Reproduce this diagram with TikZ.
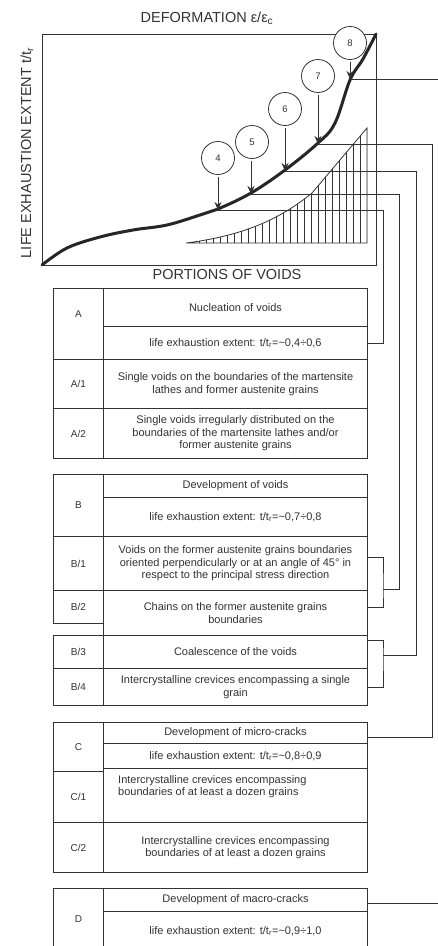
\documentclass[tikz,border=0pt]{standalone}
\usepackage{fontspec}
\setmainfont{Liberation Sans}
\usepackage{tikz}
\usetikzlibrary{arrows.meta}
\definecolor{ink}{HTML}{333333}
\tikzstyle{axislabel} = [text=ink, inner sep=0pt, font=\fontsize{14.5}{16}\selectfont]
\tikzstyle{frame} = [draw=ink, line width=0.9pt]
\tikzstyle{hatch} = [draw=ink, line width=0.8pt]
\tikzstyle{lifeline} = [draw=black!85, line width=3pt, line cap=round]
\tikzstyle{marker} = [circle, draw=ink, fill=white, line width=0.8pt, minimum size=33pt, inner sep=0pt, text=ink, font=\fontsize{9.5}{11}\selectfont]
\tikzstyle{pointer} = [draw=ink, line width=0.9pt, -{Stealth[length=8pt, width=7pt]}, shorten <=2pt]
\tikzstyle{link} = [draw=ink, line width=1pt]
\tikzstyle{tag} = [rectangle, draw=ink, line width=1pt, inner sep=0pt, minimum width=50pt, anchor=north west, text=ink, font=\fontsize{10}{12}\selectfont]
\tikzstyle{entry} = [rectangle, draw=ink, line width=1pt, inner sep=0pt, minimum width=264pt, anchor=north west, align=center, text=ink, font=\fontsize{11}{12.5}\selectfont]

\begin{document}
\begin{tikzpicture}[x=1pt, y=-1pt]
    \useasboundingbox [fill=white] (0,0) rectangle (438,946);

    % chart
    \node (title) [axislabel] at (207,18) {DEFORMATION ε/ε\textsubscript{c}};
    \node (ylab) [axislabel, rotate=90] at (27,153) {LIFE EXHAUSTION EXTENT t/t\textsubscript{r}};
    \node (xlab) [axislabel] at (227,275) {PORTIONS OF VOIDS};
    \draw [frame] (42,34) rectangle (376,265);

    \begin{scope}
        \clip (186,243) .. controls (250,235) and (285,215) .. (312,193) -- (367,128) -- (367,243) -- cycle;
        \foreach \x in {192,199,...,367}
            \draw [hatch] (\x,120) -- (\x,250);
    \end{scope}
    \draw [hatch] (186,243) .. controls (250,235) and (285,215) .. (312,193) -- (367,128) -- (367,243) -- cycle;

    \draw [lifeline] plot [smooth, tension=0.6] coordinates {(42,265) (67,248) (100,237) (133,230) (167,225) (200,215) (218,209) (251,193) (285,170) (318,143) (335,123) (350,80) (363,59) (376,34)};

    \coordinate (p4) at (218,210);
    \coordinate (p5) at (251,194);
    \coordinate (p6) at (285,171);
    \coordinate (p7) at (318,144);
    \coordinate (p8) at (350,79);

    \node (m4) [marker] at (218,158) {4};
    \node (m5) [marker] at (252,142) {5};
    \node (m6) [marker] at (285,109) {6};
    \node (m7) [marker] at (318,76) {7};
    \node (m8) [marker] at (350,43) {8};
    \draw [pointer] (m4) -- (p4);
    \draw [pointer] (m5.south -| p5) -- (p5);
    \draw [pointer] (m6) -- (p6);
    \draw [pointer] (m7) -- (p7);
    \draw [pointer] (m8) -- (p8);

    % table A
    \node (A) [tag, minimum height=71, text depth=20pt] at (53,288) {A};
    \node (nucl) [entry, minimum height=38] at (103,288) {Nucleation of voids};
    \node (lifeA) [entry, minimum height=33] at (103,326) {life exhaustion extent: t/t\textsubscript{r}=\textasciitilde0,4÷0,6};
    \node (A1) [tag, minimum height=49] at (53,359) {A/1};
    \node (A1txt) [entry, minimum height=49] at (103,359) {Single voids on the boundaries of the martensite\\lathes and former austenite grains};
    \node (A2) [tag, minimum height=50] at (53,408) {A/2};
    \node (A2txt) [entry, minimum height=50] at (103,408) {Single voids irregularly distributed on the\\boundaries of the martensite lathes and/or\\former austenite grains};

    % table B
    \node (B) [tag, minimum height=62] at (53,474) {B};
    \node (devV) [entry, minimum height=23] at (103,474) {Development of voids};
    \node (lifeB) [entry, minimum height=39] at (103,497) {life exhaustion extent: t/t\textsubscript{r}=\textasciitilde0,7÷0,8};
    \node (B1) [tag, minimum height=54] at (53,536) {B/1};
    \node (B1txt) [entry, minimum height=54] at (103,536) {Voids on the former austenite grains boundaries\\oriented perpendicularly or at an angle of 45° in\\respect to the principal stress direction};
    \node (B2) [tag, minimum height=33] at (53,590) {B/2};
    \node (B2txt) [entry, minimum height=45] at (103,590) {Chains on the former austenite grains\\boundaries};
    \node (B3) [tag, minimum height=33] at (53,635) {B/3};
    \node (B3txt) [entry, minimum height=33] at (103,635) {Coalescence of the voids};
    \node (B4) [tag, minimum height=37] at (53,668) {B/4};
    \node (B4txt) [entry, minimum height=37] at (103,668) {Intercrystalline crevices encompassing a single\\grain};

    % table C
    \node (C) [tag, minimum height=49] at (53,722) {C};
    \node (micro) [entry, minimum height=21] at (103,722) {Development of micro-cracks};
    \node (lifeC) [entry, minimum height=25] at (103,743) {life exhaustion extent: t/t\textsubscript{r}=\textasciitilde0,8÷0,9};
    \node (C1) [tag, minimum height=51] at (53,771) {C/1};
    \node (C1txt) [entry, minimum height=54] at (103,768) {};
    \node (C1note) [anchor=north west, align=left, inner sep=0pt, text=ink, font=\fontsize{11}{12.5}\selectfont] at (118,775) {Intercrystalline crevices encompassing\\boundaries of at least a dozen grains};
    \node (C2) [tag, minimum height=50] at (53,822) {C/2};
    \node (C2txt) [entry, minimum height=50] at (103,822) {Intercrystalline crevices encompassing\\boundaries of at least a dozen grains};

    % table D
    \node (D) [tag, minimum height=62] at (53,888) {D};
    \node (macro) [entry, minimum height=23] at (103,888) {Development of macro-cracks};
    \node (lifeD) [entry, minimum height=39] at (103,911) {life exhaustion extent: t/t\textsubscript{r}=\textasciitilde0,9÷1,0};

    % connectors
    \coordinate (br1) at (383,589);
    \coordinate (br2) at (383,655);
    \draw [link] (p4) -- ++(165,0) |- (lifeA.east);
    \draw [link] ([yshift=6pt]B1txt.east) -| (br1) |- ([yshift=6pt]B2txt.east);
    \draw [link] (p5) -- ++(148,0) |- (br1);
    \draw [link] ([yshift=12pt]B3txt.east) -| (br2) |- (B4txt.east);
    \draw [link] (p6) -- ++(131,0) |- (br2);
    \draw [link] (p7) -- ++(114,0) |- ([yshift=-4pt]micro.east);
    \draw [link] (p8) -- ++(91,0) |- ([yshift=-3pt]macro.east);
\end{tikzpicture}
\end{document}
